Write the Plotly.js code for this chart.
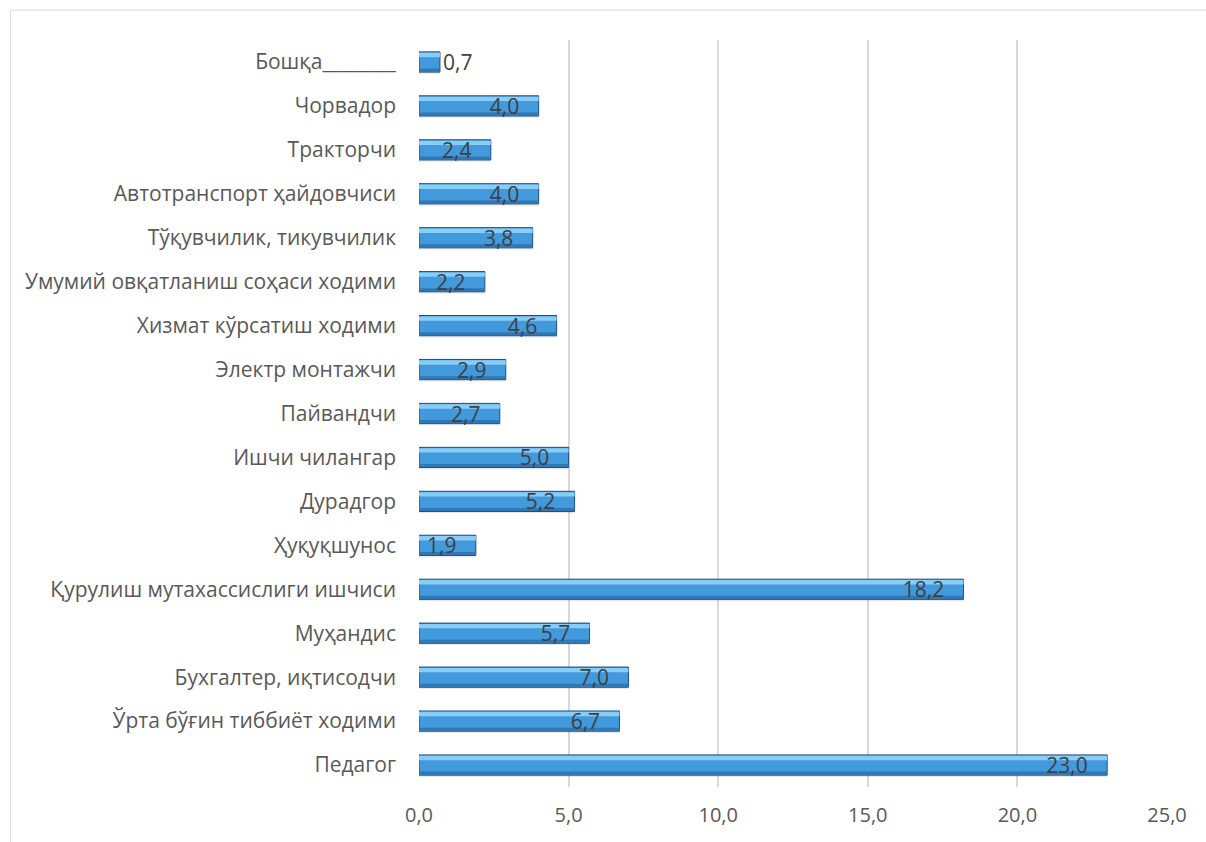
<!DOCTYPE html>
<html>
<head>
<meta charset="utf-8">
<script src="https://cdn.plot.ly/plotly-3.0.1.min.js"></script>
<style>html,body{margin:0;padding:0;background:#fff;}#chart{width:1206px;height:842px;}</style>
</head>
<body>
<div id="chart"></div>
<script>
const categories = [
  "Педагог",
  "Ўрта бўғин тиббиёт ходими",
  "Бухгалтер, иқтисодчи",
  "Муҳандис",
  "Қурулиш мутахассислиги ишчиси",
  "Ҳуқуқшунос",
  "Дурадгор",
  "Ишчи чилангар",
  "Пайвандчи",
  "Электр монтажчи",
  "Хизмат кўрсатиш ходими",
  "Умумий овқатланиш соҳаси ходими",
  "Тўқувчилик, тикувчилик",
  "Автотранспорт ҳайдовчиси",
  "Тракторчи",
  "Чорвадор",
  "Бошқа________"
];
const values = [23.0, 6.7, 7.0, 5.7, 18.2, 1.9, 5.2, 5.0, 2.7, 2.9, 4.6, 2.2, 3.8, 4.0, 2.4, 4.0, 0.7];
const tickValues = [0, 5, 10, 15, 20, 25];

const FONT = "Open Sans, Noto Sans, sans-serif";
const PAD = '\u00a0\u00a0\u00a0';
const labelPos = values.map(v => v < 1 ? 'outside' : 'inside');
const labelTpl = values.map(v => v < 1 ? '%{x:.1f}' : '%{x:.1f}' + PAD);

const traces = [
  {type:'bar', orientation:'h', y:categories, x:values, width:0.46, offset:-0.27,
   marker:{color:'rgba(0,0,0,0.09)', line:{width:0}}, hoverinfo:'skip', showlegend:false},
  {type:'bar', orientation:'h', y:categories, x:values, width:0.46, offset:-0.23,
   marker:{color:'#4299db', line:{color:'#1f4f7e', width:1}}, hoverinfo:'skip', showlegend:false},
  {type:'bar', orientation:'h', y:categories, x:values, width:0.07, offset:-0.22,
   marker:{color:'#3077b5', line:{width:0}}, hoverinfo:'skip', showlegend:false},
  {type:'bar', orientation:'h', y:categories, x:values, width:0.1, offset:0.11,
   marker:{color:'#88cdf6', line:{width:0}}, hoverinfo:'skip', showlegend:false},
  {type:'bar', orientation:'h', y:categories, x:values, width:0.46, offset:-0.23,
   marker:{color:'rgba(0,0,0,0)', line:{width:0}},
   texttemplate:labelTpl, textposition:labelPos, insidetextanchor:'end',
   constraintext:'none', textangle:0, cliponaxis:false,
   textfont:{family:FONT, size:21, color:'#404040'}, showlegend:false}
];

const layout = {
  width:1206, height:842,
  margin:{l:419, r:39, t:40, b:55},
  paper_bgcolor:'#ffffff', plot_bgcolor:'#ffffff',
  barmode:'overlay',
  separators:', ',
  showlegend:false,
  xaxis:{range:[0,25], tickvals:tickValues, tickformat:'.1f', showgrid:true,
         gridcolor:'#d9d9d9', gridwidth:2, zeroline:false, showline:false, ticks:'',
         tickfont:{family:FONT, size:20, color:'#595959'}, ticklabelstandoff:14, fixedrange:true},
  yaxis:{type:'category', categoryorder:'array', categoryarray:categories,
         showgrid:false, zeroline:false, showline:false, ticks:'',
         tickfont:{family:FONT, size:21, color:'#595959'}, ticklabelstandoff:22, fixedrange:true},
  shapes:[{type:'rect', xref:'paper', yref:'paper', x0:-0.546, x1:1.2, y0:-0.2, y1:1.04,
           line:{color:'#d9d9d9', width:1}, fillcolor:'rgba(0,0,0,0)', layer:'below'}]
};

Plotly.newPlot('chart', traces, layout, {displayModeBar:false, staticPlot:true});
</script>
</body>
</html>
